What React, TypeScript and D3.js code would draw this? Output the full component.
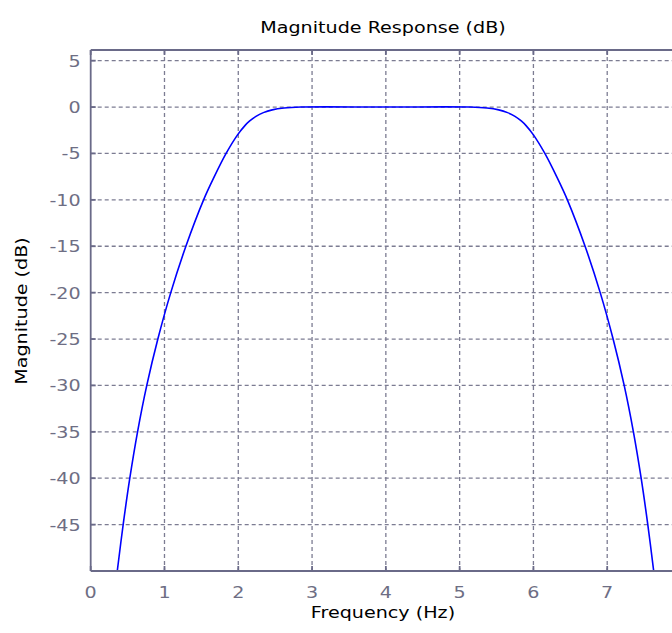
import React from 'react';
import * as d3 from 'd3';

// frequency (Hz) / magnitude (dB)
const freqs = [0.36, 0.44, 0.53, 0.635, 0.76, 0.91, 1.085, 1.29, 1.53, 1.675, 1.835, 1.99, 2.09, 2.155, 2.24, 2.34, 2.46, 2.62, 2.85, 4.0, 5.14, 5.37, 5.53, 5.65, 5.75, 5.835, 5.9, 6.0, 6.155, 6.315, 6.46, 6.7, 6.905, 7.08, 7.23, 7.355, 7.46, 7.55, 7.63];
const mags = [-50, -45, -40, -35, -30, -25, -20, -15, -10, -7.5, -5, -3, -2, -1.5, -1, -0.6, -0.3, -0.1, 0, 0, 0, -0.1, -0.3, -0.6, -1, -1.5, -2, -3, -5, -7.5, -10, -15, -20, -25, -30, -35, -40, -45, -50];

const xTicks = [0, 1, 2, 3, 4, 5, 6, 7, 8];
const xTickLabels = ['0', '1', '2', '3', '4', '5', '6', '7'];
const yTicks = [5, 0, -5, -10, -15, -20, -25, -30, -35, -40, -45];

const W = 672;
const H = 633;
const margin = { top: 50, right: -9, bottom: 62, left: 90.7 };
const stretch = 1.16;
const font = 'DejaVu Sans, sans-serif';

const App = () => {
  const x = d3.scaleLinear().domain([0, 8]).range([margin.left, W - margin.right]);
  const y = d3.scaleLinear().domain([-50, 6.15]).range([H - margin.bottom, margin.top]);
  const x0 = x.range()[0];
  const x1 = x.range()[1];
  const yTop = y.range()[1];
  const yBot = y.range()[0];

  const pts = freqs.map((f, i) => [f, mags[i]] as [number, number]);
  const line = d3.line<[number, number]>()
    .x(d => x(d[0]))
    .y(d => y(d[1]))
    .curve(d3.curveCatmullRom.alpha(0.5));

  const gridColor = '#7c7c92';
  const axisColor = '#6a6a88';
  const labelColor = '#6e6e84';

  const txt = (tx: number, ty: number, s: string, anchor: string, fill: string, size = 16.5, rotate = 0) => (
    <g transform={`translate(${tx},${ty}) rotate(${rotate}) scale(${stretch},1)`}>
      <text textAnchor={anchor} fontFamily={font} fontSize={size} fill={fill}>{s}</text>
    </g>
  );

  return (
    <svg width={W} height={H} style={{ position: 'absolute', left: 0, top: 0, background: '#fff' }}>
      <defs>
        <clipPath id="plotClip">
          <rect x={x0} y={yTop} width={x1 - x0} height={yBot - yTop} />
        </clipPath>
      </defs>
      {/* grid */}
      <g stroke={gridColor} strokeWidth={1.3} strokeDasharray="4,3">
        {xTicks.filter(t => t > 0).map(t => (
          <line key={'gx' + t} x1={x(t)} x2={x(t)} y1={yTop} y2={yBot} />
        ))}
        {yTicks.map(t => (
          <line key={'gy' + t} x1={x0} x2={x1} y1={y(t)} y2={y(t)} />
        ))}
      </g>
      {/* curve */}
      <path d={line(pts) || ''} fill="none" stroke="#0000ff" strokeWidth={1.6} clipPath="url(#plotClip)" />
      {/* axes frame + ticks */}
      <g stroke={axisColor} strokeWidth={1.8}>
        <line x1={x0} x2={x1} y1={yTop} y2={yTop} />
        <line x1={x0} x2={x1} y1={yBot} y2={yBot} />
        <line x1={x0} x2={x0} y1={yTop} y2={yBot} />
        {xTicks.map(t => (
          <g key={'tx' + t}>
            <line x1={x(t)} x2={x(t)} y1={yBot} y2={yBot - 5} />
            <line x1={x(t)} x2={x(t)} y1={yTop} y2={yTop + 5} />
          </g>
        ))}
        {yTicks.map(t => (
          <line key={'ty' + t} x1={x0} x2={x0 + 5} y1={y(t)} y2={y(t)} />
        ))}
      </g>
      {/* tick labels */}
      {xTickLabels.map(t => <g key={'lx' + t}>{txt(x(+t), yBot + 27, t, 'middle', labelColor)}</g>)}
      {yTicks.map(t => <g key={'ly' + t}>{txt(x0 - 10, y(t) + 6, String(t), 'end', labelColor)}</g>)}
      {/* titles */}
      {txt(383, 33, 'Magnitude Response (dB)', 'middle', '#000')}
      {txt(383, 618, 'Frequency (Hz)', 'middle', '#000')}
      {txt(27, 311, 'Magnitude (dB)', 'middle', '#000', 16.5, -90)}
    </svg>
  );
};

export default App;
